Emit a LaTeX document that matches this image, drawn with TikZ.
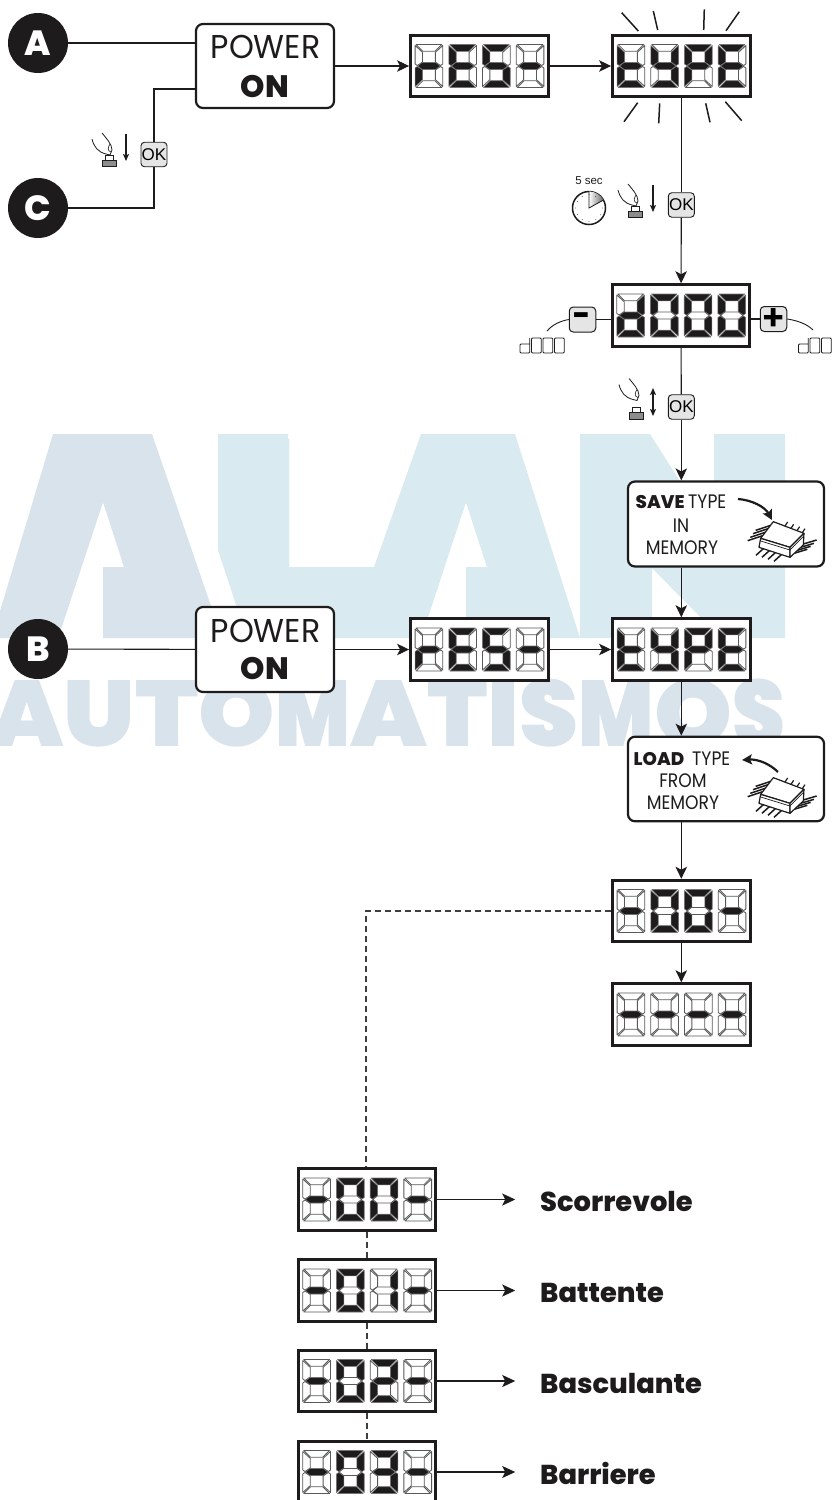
\documentclass[tikz,border=0pt]{standalone}
\usepackage{fontspec}
\usetikzlibrary{arrows.meta,calc}
\setmainfont{Poppins}
\newfontfamily\pxb{Poppins ExtraBold}
\newfontfamily\pblk{Poppins Black}
\newfontfamily\psemi{Poppins SemiBold}
\newfontfamily\pmed{Poppins}[FakeStretch=0.88]
\newfontfamily\ppow{Poppins}[FakeStretch=0.96]
\newfontfamily\okf{Liberation Sans}
\definecolor{ink}{HTML}{1D1B1C}
\definecolor{wmA}{HTML}{D9E3EC}
\definecolor{wmB}{HTML}{D9EAF0}
\tikzset{
  conn/.style={draw=ink,line width=1.1pt,-{Stealth[length=12pt,width=11.5pt,inset=3pt]}},
  plain/.style={draw=ink,line width=1.1pt},
  dashedconn/.style={draw=ink!85,line width=1.1pt,dash pattern=on 6pt off 4pt},
  listarrow/.style={draw=ink,line width=1.6pt,-{Stealth[length=13pt,width=12pt,inset=3pt]}},
  dispbox/.style={draw=ink,fill=white,line width=3pt,minimum width=137.5pt,minimum height=61.5pt,inner sep=0pt},
  roundbox/.style={draw=ink,fill=white,line width=2.2pt,rounded corners=7pt,inner sep=0pt,align=center},
  badge/.style={circle,fill=ink,text=white,minimum size=60pt,inner sep=0pt,font=\pxb\fontsize{35}{35}\selectfont},
  okbox/.style={draw=ink,fill=black!10,line width=.9pt,rounded corners=3.5pt,minimum width=26pt,minimum height=24.5pt,inner sep=0pt,font=\okf\fontsize{17}{17}\selectfont},
  pmbox/.style={draw=ink,fill=black!10,line width=1pt,rounded corners=4pt,minimum width=26.5pt,minimum height=25pt,inner sep=0pt},
  sg0/.style={fill=white,draw=black!65,line width=.85pt,line join=round},
  sg1/.style={fill=ink,draw=black!55,line width=.6pt,line join=round},
  ray/.style={draw=ink,line width=1.5pt},
  listlabel/.style={anchor=base west,inner sep=0pt,font=\pxb\fontsize{27.3}{27}\selectfont,text=ink},
  powtext/.style={anchor=base,inner sep=0pt,font=\ppow\fontsize{33}{33}\selectfont,text=ink},
  ontext/.style={anchor=base,inner sep=0pt,font=\pxb\fontsize{31}{31}\selectfont,text=ink},
  boldcap/.style={anchor=base west,inner sep=0pt,font=\pxb\fontsize{18.3}{19}\selectfont,text=ink},
  lightcap/.style={inner sep=0pt,font=\pmed\fontsize{19.5}{19}\selectfont,text=ink},
  wm/.style={inner sep=0pt,anchor=south west},
  mini/.style={draw=ink,line width=.9pt,rounded corners=1pt},
  pin/.style={draw=ink,line width=1.5pt},
  chipface/.style={draw=ink,line width=1.2pt,fill=white,line join=round},
}
\def\segs#1#2#3#4#5#6#7{%
 \path[sg#1] (1,0)--(26.7,0)--(19.9,6.8)--(7.8,6.8)--cycle;
 \path[sg#2] (27.7,1)--(27.7,19.5)--(25.5,21)--(20.3,17.6)--(20.3,7.8)--cycle;
 \path[sg#3] (27.7,42)--(27.7,23.5)--(25.5,22)--(20.3,25.4)--(20.3,35.2)--cycle;
 \path[sg#4] (1,43)--(26.7,43)--(19.9,36.2)--(7.8,36.2)--cycle;
 \path[sg#5] (0,42)--(0,23.5)--(2.2,22)--(7.4,25.4)--(7.4,35.2)--cycle;
 \path[sg#6] (0,1)--(0,19.5)--(2.2,21)--(7.4,17.6)--(7.4,7.8)--cycle;
 \path[sg#7] (2.6,21.5)--(7,18)--(20.7,18)--(25.1,21.5)--(20.7,25)--(7,25)--cycle;
}
%            a b c d e f g
\def\dO{1111110}
\def\dI{0110000}
\def\dII{1101101}
\def\dIII{1111001}
\def\dm{0000001}
\def\dr{0000101}
\def\dE{1001111}
\def\dS{1011011}
\def\dt{0001111}
\def\dy{0111011}
\def\dP{1100111}
\def\dd{0111101}
\newcommand\digitat[3]{\begin{scope}[shift={(#1,#2)}]\expandafter\segs#3\end{scope}}
\newcommand\disp[7]{%
  \node[dispbox] (#1) at (#2,#3) {};
  \digitat{#2-64.2}{#3-21.5}{#4}
  \digitat{#2-30.5}{#3-21.5}{#5}
  \digitat{#2+3.2}{#3-21.5}{#6}
  \digitat{#2+36.9}{#3-21.5}{#7}
}
\newcommand\handicon[3]{%
 \begin{scope}[shift={(#1,#2)}]
  \begin{scope}[shift={(0,#3)}]
   \draw[ink,line width=.8pt] (-17,-24) .. controls (-15,-16) and (-11,-11) .. (-3,-9);
   \draw[ink,line width=.8pt] (-7,-30) .. controls (-3,-25) and (3,-19) .. (3,-13) -- (1,-8) -- (-3,-9);
   \draw[ink,line width=.6pt] (1,-19) .. controls (-1,-16) and (-2,-12) .. (2,-11);
  \end{scope}
  \draw[ink,line width=.9pt,fill=white] (-4,-8) rectangle (4,-3);
  \draw[ink,line width=.9pt,fill=black!45] (-7,-3) rectangle (7,3.5);
 \end{scope}}
\newcommand\chip[1]{%
 \begin{scope}[shift={(610,#1)},x=.3333pt,y=-.3333pt]
  \foreach \a/\b/\c/\d in {458/197/413/212, 466/187/421/202, 474/176/429/191, 482/166/437/181,
     552/250/592/238, 562/241/602/229, 572/232/612/220, 580/222/620/210,
     460/236/438/256, 478/242/456/262, 496/248/474/268, 514/254/492/274}
     \draw[pin] (\a,\b) -- (\c,\d);
  \foreach \a/\b/\c/\d in {525/168/533/156, 543/175/551/163, 561/182/569/170, 577/188/585/176}
     \draw[pin,line width=1.2pt] (\a,\b) -- (\c,\d);
  \draw[chipface] (452,205) -- (490,155) -- (582,190) -- (540,232) -- cycle;
  \draw[chipface] (452,205) -- (540,232) -- (540,262) -- (447,232) -- cycle;
  \draw[chipface] (540,232) -- (582,190) -- (580,225) -- (540,262) -- cycle;
  \draw[ink,line width=.7pt] (452,213) -- (540,240) -- (582,198);
 \end{scope}}
\newcommand\miniO[2]{\draw[mini] (#1,#2) rectangle ++(9.7,15);}
\newcommand\miniD[2]{\draw[mini] (#1+9.7,#2) -- ++(0,15) -- ++(-9.7,0) -- ++(0,-9) -- ++(9.7,0);}
\begin{document}
\begin{tikzpicture}[x=1pt,y=-1pt]
\useasboundingbox (0,0) rectangle (837,1500);
\clip (0,0) rectangle (837,1500);
% watermark
\node[wm,text=wmA] (wA) at (2,638) {\resizebox{212pt}{198pt}{\pblk A}};
\node[wm,text=wmB] (wL) at (222,638) {\resizebox{125pt}{198pt}{\pblk L}};
\node[wm,text=wmB] (wA2) at (354,638) {\resizebox{222pt}{198pt}{\pblk A}};
\node[wm,text=wmB] (wN) at (582,638) {\resizebox{201pt}{198pt}{\pblk N}};
\node[wm,text=wmA] (wT) at (-10,747) {\pblk
  \resizebox{73.5pt}{66pt}{A}\resizebox{71.5pt}{66pt}{U}\resizebox{63.5pt}{66pt}{T}\resizebox{76.5pt}{67.5pt}{O}\resizebox{75pt}{66pt}{M}\resizebox{77pt}{66pt}{A}\resizebox{60.5pt}{66pt}{T}\resizebox{32pt}{66pt}{I}\resizebox{59pt}{67.5pt}{S}\resizebox{75.5pt}{66pt}{M}\resizebox{78pt}{67.5pt}{O}\resizebox{53pt}{67.5pt}{S}};
\fill[white] (103,502) -- (124,567) -- (103,567) -- (103,638) -- (58,638) -- cycle;
\fill[white] (466,502) -- (487,567) -- (466,567) -- (466,638) -- (421,638) -- cycle;
\fill[white] (218,550) -- (247,638) -- (218,638) -- cycle;
\fill[white] (650,434) -- (714,434) -- (714,535) -- cycle;
\fill[white] (652,568) -- (721,638) -- (652,638) -- cycle;
\fill[wmA] (-8,638) -- (53,434) -- (152,434) -- (222,638) -- (103,638) -- (103,567) -- (124,567) -- (103,502) -- (58,638) -- cycle;
\fill[wmB] (218,434) -- (288,434) -- (288,567) -- (374,567) -- (421,434) -- (515,434) -- (580,638) -- (466,638) -- (466,567) -- (487,567) -- (466,502) -- (421,638) -- (247,638) -- (218,550) -- cycle;
\fill[wmB] (580,434) -- (650,434) -- (714,535) -- (714,434) -- (785,434) -- (785,638) -- (721,638) -- (652,568) -- (652,638) -- (580,638) -- cycle;
% top row
\node[badge] (A) at (38,43) {A};
\node[badge] (C) at (38,208) {C};
\node[badge] (B) at (38,649) {B};
\node[roundbox,minimum width=138pt,minimum height=84pt] (pw1) at (265,66) {};
\node[roundbox,minimum width=138pt,minimum height=85pt] (pw2) at (265,649.5) {};
\node[powtext] (pw1a) at (265.5,58) {POWER};
\node[ontext] (pw1b) at (265,97) {ON};
\node[powtext] (pw2a) at (265.5,642) {POWER};
\node[ontext] (pw2b) at (265,679) {ON};
\disp{test1}{479.3}{66}{\dr}{\dE}{\dS}{\dm}
\disp{type1}{681.3}{66}{\dt}{\dy}{\dP}{\dE}
\disp{dval}{681}{315.5}{\dd}{\dO}{\dO}{\dO}
\disp{test2}{479.3}{649.5}{\dr}{\dE}{\dS}{\dm}
\disp{type2}{681.3}{649.5}{\dt}{\dy}{\dP}{\dE}
\disp{dash1}{681.3}{911}{\dm}{\dO}{\dO}{\dm}
\disp{dash2}{681.3}{1014.5}{\dm}{\dm}{\dm}{\dm}
\node[okbox] (okC) at (154,154.5) {OK};
\node[okbox] (ok1) at (681.3,205) {OK};
\node[okbox] (ok2) at (681.3,407) {OK};
\node[pmbox,font=\pxb\fontsize{30}{30}\selectfont] (minus) at (582.5,319.5) {-};
\node[pmbox,font=\psemi\fontsize{36}{36}\selectfont] (plus) at (773.5,319) {+};
\node[roundbox,minimum width=196pt,minimum height=85pt] (save) at (726,524) {};
\node[roundbox,minimum width=196pt,minimum height=84.5pt] (load) at (726,779) {};
% box texts
\node[boldcap] (saveA) at (635.5,508) {SAVE};
\node[lightcap,anchor=base west] (saveB) at (688,508) {TYPE};
\node[lightcap,anchor=base] (saveC) at (681,532) {IN};
\node[lightcap,anchor=base] (saveD) at (682,554) {MEMORY};
\node[boldcap] (loadA) at (633.5,765) {LOAD};
\node[lightcap,anchor=base west] (loadB) at (692,765) {TYPE};
\node[lightcap,anchor=base] (loadC) at (683,787) {FROM};
\node[lightcap,anchor=base] (loadD) at (683,809) {MEMORY};
\chip{470}
\chip{726}
\draw[ink,line width=2.2pt,-{Stealth[length=10pt,width=10pt,inset=2pt]}] (738,499) .. controls (752,500) and (765,507) .. (772,520);
\draw[ink,line width=2.2pt,-{Stealth[length=10pt,width=10pt,inset=2pt]}] (778,772) .. controls (770,764) and (758,759) .. (742,760);
% connectors top
\draw[plain] (A) -- (A -| pw1.west);
\draw[plain] (C) -| (okC);
\coordinate (cjoin) at (154,89);
\draw[plain] (okC) -- (cjoin) -- (cjoin -| pw1.west);
\draw[conn] (pw1) -- (test1);
\draw[conn] (test1) -- (type1);
\draw[plain] (type1) -- (ok1);
\draw[conn] (ok1) -- (dval);
\draw[plain] (dval) -- (ok2);
\draw[conn] (ok2) -- (save.north -| ok2);
\draw[conn] (save.south -| type2) -- (type2);
\draw[plain] (B) -- (pw2);
\draw[conn] (pw2) -- (test2);
\draw[conn] (test2) -- (type2);
\draw[conn] (type2) -- (load.north -| type2);
\draw[conn] (load.south -| dash1) -- (dash1);
\draw[conn] (dash1) -- (dash2);
% flash rays
\foreach \a/\b/\c/\d in {621.7/12.7/638.3/31, 653.3/11/657.7/30, 704.3/9.3/703.7/30, 739.3/11.7/726/30.7, 637.7/102.7/624/121.7, 659.7/103.3/658.7/123.3, 705.7/103.3/710/122.3, 725.3/101.7/741.7/120.7}
  \draw[ray] (\a,\b) -- (\c,\d);
% hands
\handicon{109}{163}{0}
\draw[ink,line width=1.2pt,-{Stealth[length=7pt,width=6pt,inset=1.5pt]}] (126,134) -- (126,161);
\handicon{635}{214}{0}
\draw[ink,line width=1.2pt,-{Stealth[length=7pt,width=6pt,inset=1.5pt]}] (653,185) -- (653,212);
\handicon{636}{415.5}{-7}
\draw[ink,line width=1.2pt,{Stealth[length=7pt,width=6pt,inset=1.5pt]}-{Stealth[length=7pt,width=6pt,inset=1.5pt]}] (653,388) -- (653,416);
% clock
\node[circle,draw=ink,line width=1.5pt,fill=white,minimum size=33pt,inner sep=0pt] (clock) at (589,208) {};
\node[font=\okf\fontsize{11.5}{11.5}\selectfont,text=ink,inner sep=0pt] (five) at (589,181) {5 sec};
\path[left color=white,right color=black!60] (589,208) -- (589,191.5) arc[start angle=90,end angle=28,radius=16.5pt] -- cycle;
\draw[ink,line width=.8pt] (589,191.5) -- (589,208) -- ($(589,208)+(14.5,-8)$);
\foreach \t in {0,30,...,330}
  \fill[ink] ($(589,208)+(\t:13.5pt)$) circle (.45pt);
% minus / plus
\coordinate (dl) at (547,331);
\coordinate (dr) at (813,330);
\draw[plain] (minus) -- (minus -| dval.west) ;
\draw[plain] (plus) -- (plus -| dval.east);
\draw[ink,line width=.9pt] (minus.west) .. controls (560,321) and (552,325) .. (dl);
\draw[ink,line width=.9pt] (plus.east) .. controls (800,321) and (808,325) .. (dr);
\miniD{520}{338}\miniO{531.5}{338}\miniO{543}{338}\miniO{554.5}{338}
\miniD{798.5}{338}\miniO{810}{338}\miniO{821.5}{338}
% list
\disp{l0}{367}{1199.5}{\dm}{\dO}{\dO}{\dm}
\disp{l1}{367}{1290.5}{\dm}{\dO}{\dI}{\dm}
\disp{l2}{367}{1381}{\dm}{\dO}{\dII}{\dm}
\disp{l3}{367}{1472}{\dm}{\dO}{\dIII}{\dm}
\coordinate (dcorner) at (366,911);
\draw[dashedconn] (dash1) -- (dcorner) -- (dcorner |- l0.north);
\foreach \p/\q in {l0/l1,l1/l2,l2/l3} \draw[dashedconn] (\p.south) -- (\q.north);
\node[listlabel] (t0) at (540,1211) {Scorrevole};
\node[listlabel] (t1) at (540,1302) {Battente};
\node[listlabel] (t2) at (540,1393) {Basculante};
\node[listlabel] (t3) at (540,1484) {Barriere};
\foreach \i in {0,1,2,3} {\coordinate (e\i) at ($(l\i.east)+(78,0)$); \draw[listarrow] (l\i) -- (e\i);}
\end{tikzpicture}
\end{document}
